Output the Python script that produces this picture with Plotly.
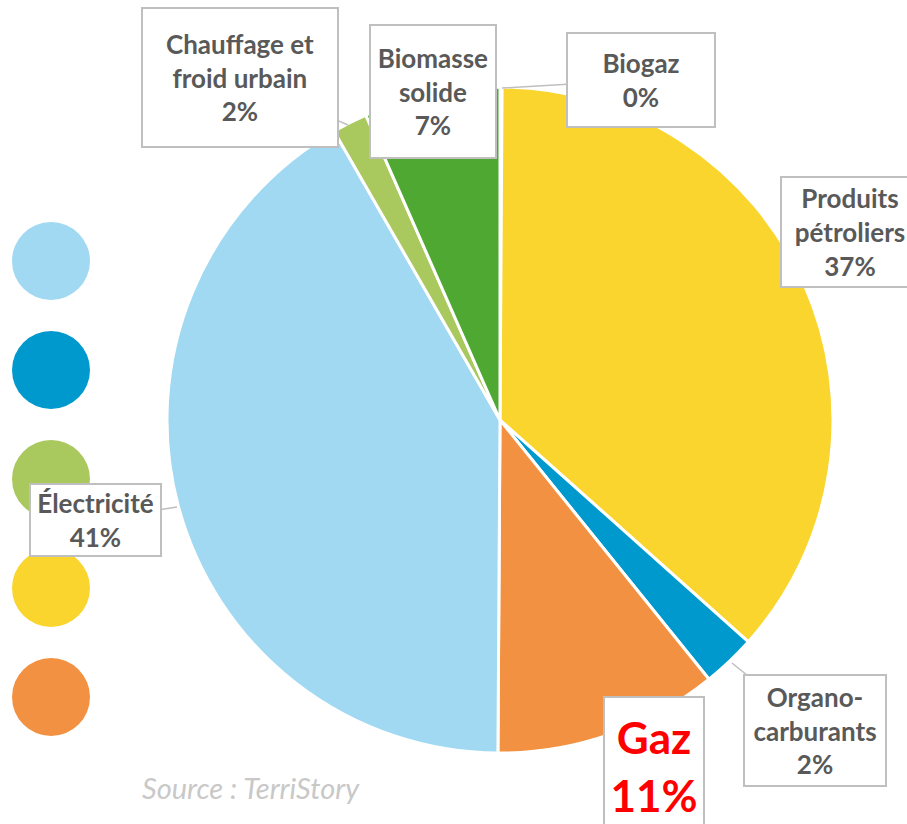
import plotly.graph_objects as go

# ---- data ----
labels = ["Biogaz", "Produits pétroliers", "Organo-carburants", "Gaz",
          "Électricité", "Chauffage et froid urbain", "Biomasse solide"]
values = [0.1, 36.5, 2.6, 10.9, 41.6, 1.7, 6.6]
shown_pct = ["0%", "37%", "2%", "11%", "41%", "2%", "7%"]
label_lines = ["Biogaz", "Produits<br>pétroliers", "Organo-<br>carburants", "Gaz",
               "Électricité", "Chauffage et<br>froid urbain", "Biomasse<br>solide"]
colors = ["#A5A5A5", "#F9D52E", "#0099CE", "#F29142",
          "#A0D9F1", "#A9C85D", "#4FA832"]
legend_cats = ["Électricité", "Organo-carburants", "Chauffage et froid urbain",
               "Produits pétroliers", "Gaz"]
source_text = "Source : TerriStory"

W, H = 907, 824
color_of = dict(zip(labels, colors))

fig = go.Figure()

# pie: centre (500,420), radius 333 px
cx, cy, r = 500, 420, 333
fig.add_trace(go.Pie(
    labels=labels, values=values, sort=False, direction="clockwise", rotation=0,
    marker=dict(colors=colors, line=dict(color="white", width=3)),
    textinfo="none", showlegend=False, hole=0,
    domain=dict(x=[(cx - r) / W, (cx + r) / W],
                y=[(H - cy - r) / H, (H - cy + r) / H]),
))

# legend circles (no text)
fig.add_trace(go.Scatter(
    x=[0] * len(legend_cats), y=list(range(len(legend_cats))),
    mode="markers", text=legend_cats, hoverinfo="text", showlegend=False,
    marker=dict(size=78, color=[color_of[c] for c in legend_cats], line=dict(width=0)),
))
fig.update_xaxes(domain=[0, 102 / W], range=[-1, 1], visible=False, fixedrange=True)
fig.update_yaxes(domain=[0, 1], range=[(H - 261) / 109, -261 / 109], visible=False, fixedrange=True)

GRAY = "#595959"
BORDER = "#BFBFBF"
FONT = "Lato"

# label boxes: (label, centre x, centre y, box w, box h, tip or None)
boxes = {
    "Chauffage et froid urbain": (240, 78, 198, 141, (348, 125)),
    "Biomasse solide": (433, 91, 128, 135, None),
    "Biogaz": (641, 80, 150, 96, (502, 88)),
    "Produits pétroliers": (850, 232, 140, 112, None),
    "Organo-carburants": (815, 730, 144, 113, (732, 663)),
    "Électricité": (95.5, 520, 133, 74, (177, 507)),
}
for lab, (bx, by, bw, bh, tip) in boxes.items():
    i = labels.index(lab)
    txt = "<b>" + label_lines[i] + "<br>" + shown_pct[i] + "</b>"
    common = dict(text=txt, xref="paper", yref="paper",
                  font=dict(family=FONT, size=26, color=GRAY),
                  bgcolor="white", bordercolor=BORDER, borderwidth=2, borderpad=0,
                  width=bw - 4, height=bh - 4, align="center", valign="middle")
    if tip is None:
        fig.add_annotation(x=bx / W, y=1 - by / H, showarrow=False,
                           xanchor="center", yanchor="middle", **common)
    else:
        fig.add_annotation(x=tip[0] / W, y=1 - tip[1] / H, showarrow=True,
                           ax=bx - tip[0], ay=by - tip[1], arrowhead=0,
                           arrowwidth=1.5, arrowcolor=BORDER, standoff=0, **common)

# Gaz highlighted
gi = labels.index("Gaz")
fig.add_annotation(x=654 / W, y=1 - 766 / H, xref="paper", yref="paper", showarrow=False,
                   text="<b>" + label_lines[gi] + "<br>" + shown_pct[gi] + "</b>",
                   font=dict(family=FONT, size=44, color="#FF0000"),
                   bgcolor="white", bordercolor=BORDER, borderwidth=2, borderpad=0,
                   width=98, height=136, align="center", valign="middle",
                   xanchor="center", yanchor="middle")

# source
fig.add_annotation(x=251 / W, y=1 - 787 / H, xref="paper", yref="paper", showarrow=False,
                   text="<i>" + source_text + "</i>",
                   font=dict(family=FONT, size=29, color="#C8C8C8"),
                   xanchor="center", yanchor="middle")

fig.update_layout(width=W, height=H, margin=dict(l=0, r=0, t=0, b=0),
                  paper_bgcolor="white", plot_bgcolor="white")
fig.write_html("out.html")
